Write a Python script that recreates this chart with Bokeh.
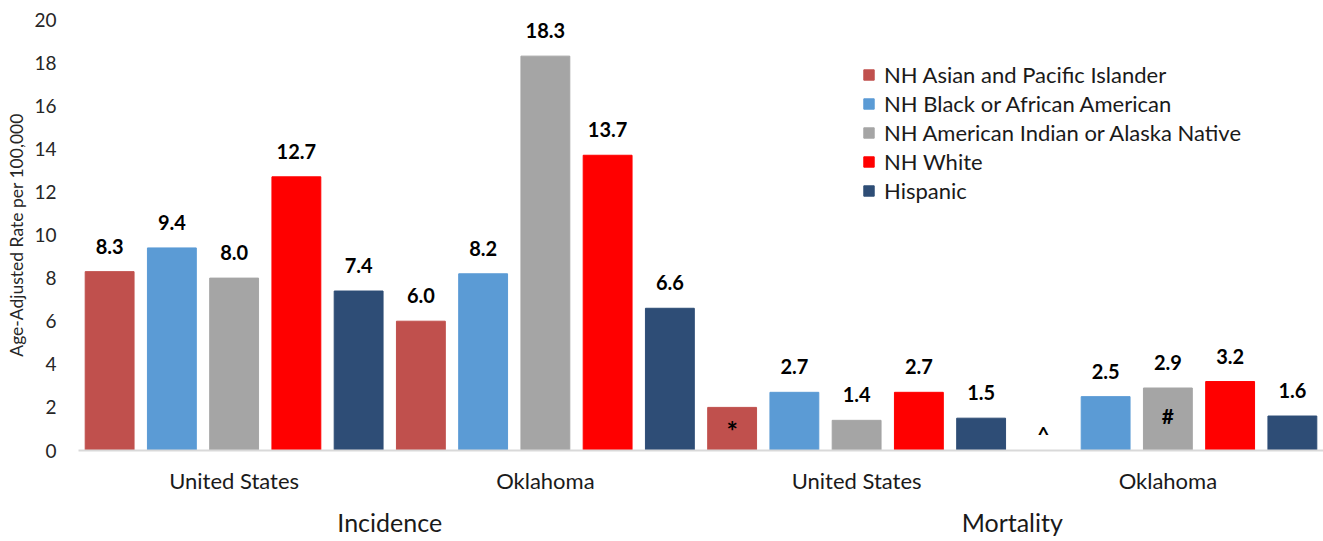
import math
from bokeh.plotting import figure
from bokeh.models import FactorRange, ColumnDataSource, Legend, LegendItem, FixedTicker
from bokeh.transform import dodge
from bokeh.core.properties import value
from bokeh.embed import file_html
from bokeh.resources import INLINE

# ---------------- data ----------------
measures = ["Incidence", "Incidence", "Mortality", "Mortality"]
places = ["United States", "Oklahoma", "United States", "Oklahoma"]
races = ["NH Asian and Pacific Islander", "NH Black or African American",
         "NH American Indian or Alaska Native", "NH White", "Hispanic"]
asian = [8.3, 6.0, 2.0, float("nan")]
black = [9.4, 8.2, 2.7, 2.5]
aian = [8.0, 18.3, 1.4, 2.9]
white = [12.7, 13.7, 2.7, 3.2]
hispanic = [7.4, 6.6, 1.5, 1.6]
series = [asian, black, aian, white, hispanic]
# whether the value label is printed above the bar
show_asian = [True, True, False, False]
show_other = [True, True, True, True]
shows = [show_asian, show_other, show_other, show_other, show_other]
# footnote symbols drawn on bars
asian_notes = ["", "", "*", "^"]
aian_notes = ["", "", "", "#"]
blank_notes = ["", "", "", ""]
notes = [asian_notes, blank_notes, aian_notes, blank_notes, blank_notes]
colors = ["#c0504d", "#5b9bd5", "#a5a5a5", "#ff0000", "#2e4d76"]
yticks = [0, 2, 4, 6, 8, 10, 12, 14, 16, 18, 20]

FONT = "Lato"

x_factors = list(zip(measures, places))
p = figure(x_range=FactorRange(*x_factors, range_padding=0, group_padding=0,
                               factor_padding=0, subgroup_padding=0),
           y_range=(0, 20), width=1323, height=541,
           output_backend="svg", toolbar_location=None,
           min_border_left=78, min_border_right=0, min_border_top=19,
           min_border_bottom=91)
p.outline_line_color = None
p.xgrid.grid_line_color = None
p.ygrid.grid_line_color = None

offsets = [-0.4, -0.2, 0.0, 0.2, 0.4]
bar_w = 0.157
items = []
for name, vals, show, nts, col, off in zip(races, series, shows, notes, colors, offsets):
    lab = [f"{v:.1f}" if (s and not math.isnan(v)) else "" for v, s in zip(vals, show)]
    star = [n if n == "*" else "" for n in nts]
    hash_ = [n if n == "#" else "" for n in nts]
    base = [n if n == "^" else "" for n in nts]
    mid = [(v / 2 if not math.isnan(v) else 0) for v in vals]
    top = [(v if not math.isnan(v) else 0) for v in vals]
    src = ColumnDataSource(dict(x=x_factors, top=top, lab=lab, star=star, hash=hash_,
                                base=base, mid=mid))
    xd = dodge("x", off, range=p.x_range)
    r = p.vbar(x=xd, top="top", width=bar_w,
               source=src, fill_color=col, line_color=col)
    items.append(LegendItem(label=name, renderers=[r]))
    p.text(x=xd, y="top", text="lab", source=src,
           text_font=value(FONT), text_font_style="bold", text_font_size="20px",
           text_align="center", text_baseline="bottom", y_offset=-18,
           text_color="black")
    p.text(x=xd, y="mid", text="star", source=src,
           text_font=value(FONT), text_font_style="bold", text_font_size="27px",
           text_align="center", text_baseline="middle", y_offset=2,
           text_color="black")
    p.text(x=xd, y="mid", text="hash", source=src,
           text_font=value(FONT), text_font_style="bold", text_font_size="21px",
           text_align="center", text_baseline="middle", y_offset=-4,
           text_color="black")
    p.text(x=xd, y=0, text="base", source=src,
           text_font=value(FONT), text_font_style="bold", text_font_size="21px",
           text_align="center", text_baseline="bottom", y_offset=-5,
           text_color="black")

legend = Legend(items=items, location=(784, 246), orientation="vertical",
                border_line_color=None, background_fill_alpha=0,
                padding=0, margin=0, spacing=2,
                glyph_width=13, glyph_height=13, label_height=22,
                label_standoff=9,
                label_text_font=FONT, label_text_font_size="22px",
                label_text_color="#1a1a1a")
p.add_layout(legend)

# y axis
p.yaxis.ticker = FixedTicker(ticks=yticks)
p.yaxis.axis_line_color = None
p.yaxis.major_tick_line_color = None
p.yaxis.minor_tick_line_color = None
p.yaxis.major_label_standoff = 16
p.yaxis.major_label_text_font = FONT
p.yaxis.major_label_text_font_size = "19px"
p.yaxis.major_label_text_color = "#262626"
p.yaxis.axis_label = "Age-Adjusted Rate per 100,000"
p.yaxis.axis_label_text_font = FONT
p.yaxis.axis_label_text_font_style = "normal"
p.yaxis.axis_label_text_font_size = "17.5px"
p.yaxis.axis_label_text_color = "#262626"
p.yaxis.axis_label_standoff = 4

# x axis
p.xaxis.axis_line_color = "#d9d9d9"
p.xaxis.axis_line_width = 2
p.xaxis.major_tick_line_color = None
p.xaxis.minor_tick_line_color = None
p.xaxis.separator_line_alpha = 0
p.xaxis.major_label_text_font = FONT
p.xaxis.major_label_text_font_size = "22px"
p.xaxis.major_label_text_color = "#1a1a1a"
p.xaxis.major_label_standoff = 10
p.xaxis.group_text_font = FONT
p.xaxis.group_text_font_size = "25px"
p.xaxis.group_text_font_style = "normal"
p.xaxis.group_text_color = "#1a1a1a"

open("out.html", "w").write(file_html(p, INLINE))
